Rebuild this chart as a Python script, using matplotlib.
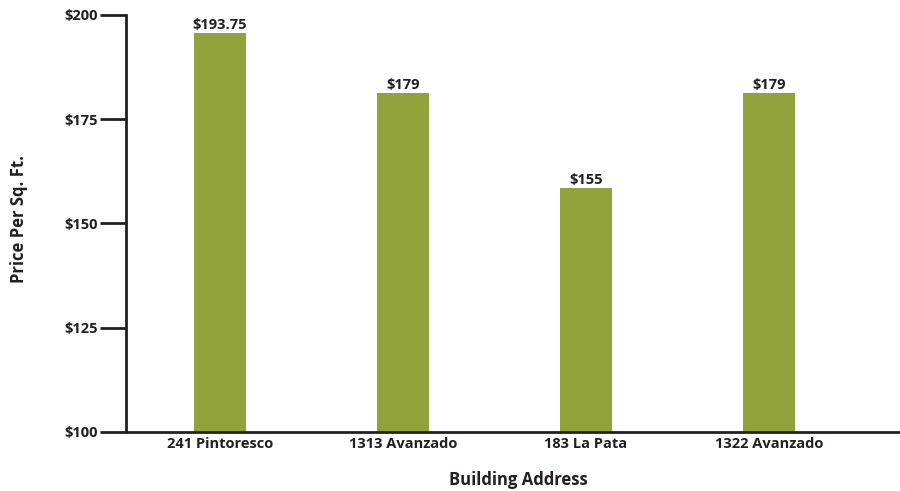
import matplotlib
matplotlib.use("Agg")
from matplotlib import pyplot as plt

# data
addresses = ['241 Pintoresco', '1313 Avanzado', '183 La Pata', '1322 Avanzado']
bar_heights = [195.7, 181.3, 158.5, 181.3]   # heights as drawn in the picture
price_labels = ['$193.75', '$179', '$155', '$179']
y_ticks = [100, 125, 150, 175, 200]

plt.rcParams['font.family'] = ['Open Sans', 'DejaVu Sans']
plt.rcParams['font.weight'] = 'bold'
dark = '#231F20'
green = '#93A33C'

fig = plt.figure(figsize=(9, 4.91), dpi=100)
ax = fig.add_axes([0.14, 0.1208, 0.86, 0.8487])

x = range(len(addresses))
bars = ax.bar(x, bar_heights, width=0.284, color=green, zorder=2)
for b, lab in zip(bars, price_labels):
    ax.text(b.get_x() + b.get_width() / 2, b.get_height() + 0.3, lab,
            ha='center', va='bottom', fontsize=10.5, fontweight='bold', color=dark)

ax.set_xlim(-0.514, 3.716)
ax.set_ylim(100, 200)
ax.set_xticks(list(x))
ax.set_xticklabels(addresses, fontsize=10.5, fontweight='bold', color=dark)
ax.set_yticks(y_ticks)
ax.set_yticklabels(['$%d' % v for v in y_ticks], fontsize=10.5, fontweight='bold', color=dark)

ax.tick_params(axis='x', length=0, pad=3.5)
ax.tick_params(axis='y', direction='out', length=19, width=2, color=dark, pad=1)

for s in ['top', 'right']:
    ax.spines[s].set_visible(False)
for s in ['left', 'bottom']:
    ax.spines[s].set_color(dark)
    ax.spines[s].set_linewidth(2)

ax.set_xlabel('Building Address', fontsize=12, fontweight='bold', color=dark)
ax.set_ylabel('Price Per Sq. Ft.', fontsize=12, fontweight='bold', color=dark)
ax.xaxis.set_label_coords(0.507, -0.094)
ax.yaxis.set_label_coords(-0.127, 0.51)

fig.savefig('out.png', dpi=100)
